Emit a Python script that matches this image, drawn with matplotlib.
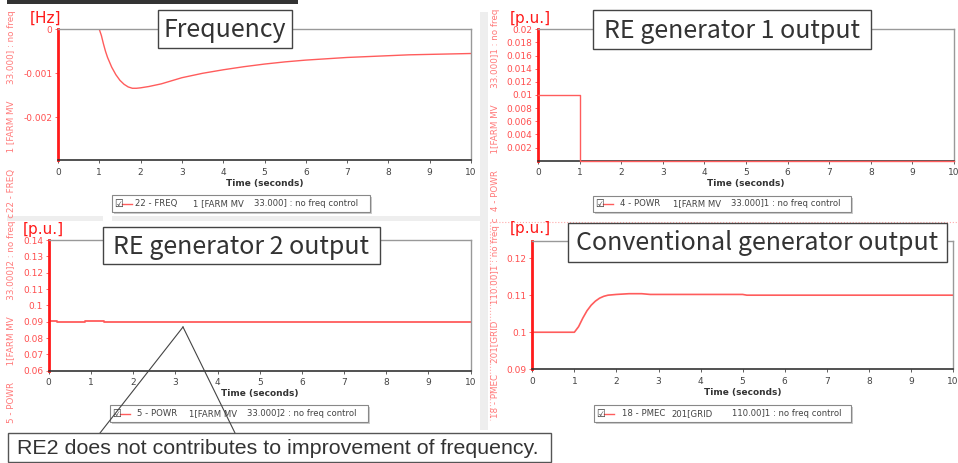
import numpy as np
import matplotlib
matplotlib.use("Agg")
import matplotlib.pyplot as plt
from matplotlib.patches import Rectangle
from matplotlib.lines import Line2D

W, H = 958, 463

# ---- data ----
freq_t = [0, 1.0, 1.05, 1.1, 1.15, 1.2, 1.3, 1.4, 1.5, 1.6, 1.7, 1.8, 1.9, 2.0, 2.2, 2.5,
          3.0, 3.5, 4.0, 4.5, 5.0, 5.5, 6.0, 6.5, 7.0, 7.5, 8.0, 8.5, 9.0, 9.5, 10.0]
freq_dev = [0, 0, -0.00014, -0.00033, -0.00050, -0.00064, -0.00086, -0.00103, -0.00116,
            -0.00125, -0.00131, -0.00134, -0.00134, -0.00133, -0.00130, -0.00124,
            -0.00110, -0.00100, -0.00092, -0.00085, -0.00079, -0.00074, -0.00070,
            -0.00067, -0.00064, -0.00062, -0.00060, -0.00058, -0.00057, -0.00056, -0.00055]

re1_t = [0, 1.0, 1.0, 10.0]
re1_p = [0.01, 0.01, 0.0, 0.0]

re2_t = [0, 0.2, 0.2, 0.85, 0.85, 1.3, 1.3, 2.4, 2.4, 6.2, 6.2, 10.0]
re2_p = [0.0902, 0.0902, 0.0899, 0.0899, 0.0902, 0.0902, 0.0899, 0.0899,
         0.0901, 0.0901, 0.0899, 0.0899]

conv_t = [0, 1.0, 1.1, 1.2, 1.3, 1.4, 1.5, 1.6, 1.7, 1.8, 2.0, 2.3, 2.6, 2.8, 5.0, 5.1, 10.0]
conv_p = [0.1, 0.1, 0.1015, 0.1038, 0.1058, 0.1073, 0.1084, 0.1092, 0.1097, 0.1100,
          0.1102, 0.1104, 0.1104, 0.1102, 0.1102, 0.1100, 0.1100]

x_ticks = list(range(11))

freq_yticks = [0, -0.001, -0.002]
freq_ylabels = ["0", "-0.001", "-0.002"]
re1_yticks = [0.002, 0.004, 0.006, 0.008, 0.01, 0.012, 0.014, 0.016, 0.018, 0.02]
re1_ylabels = ["0.002", "0.004", "0.006", "0.008", "0.01", "0.012", "0.014", "0.016", "0.018", "0.02"]
re2_yticks = [0.06, 0.07, 0.08, 0.09, 0.1, 0.11, 0.12, 0.13, 0.14]
re2_ylabels = ["0.06", "0.07", "0.08", "0.09", "0.1", "0.11", "0.12", "0.13", "0.14"]
conv_yticks = [0.09, 0.1, 0.11, 0.12]
conv_ylabels = ["0.09", "0.1", "0.11", "0.12"]

titles = ["Frequency", "RE generator 1 output", "RE generator 2 output", "Conventional generator output"]
units = ["[Hz]", "[p.u.]", "[p.u.]", "[p.u.]"]
side_labels = ["22 - FREQ      1 [FARM MV      33.000] : no freq",
               "4 - POWR      1[FARM MV      33.000]1 : no freq",
               "5 - POWR      1[FARM MV      33.000]2 : no freq c",
               "18 - PMEC    201[GRID      110.00]1 : no freq c"]
# legend entries: channel, bus, rest
legend_parts = [("22 - FREQ", "1 [FARM MV", "33.000] : no freq control"),
                ("4 - POWR", "1[FARM MV", "33.000]1 : no freq control"),
                ("5 - POWR", "1[FARM MV", "33.000]2 : no freq control"),
                ("18 - PMEC", "201[GRID", "110.00]1 : no freq control")]
note = "RE2 does not contributes to improvement of frequency."

LINE = "#ff5c5c"
TICKRED = "#ff4d4d"
SIDE = "#ff7a7a"

fig = plt.figure(figsize=(W / 100, H / 100), dpi=100)


def fx(x):
    return x / W


def fy(y):
    return 1 - y / H


def rect_px(x0, y0, x1, y1, **kw):
    r = Rectangle((fx(x0), fy(y1)), (x1 - x0) / W, (y1 - y0) / H,
                  transform=fig.transFigure, **kw)
    fig.add_artist(r)
    return r


def line_px(xs, ys, **kw):
    fig.add_artist(Line2D([fx(x) for x in xs], [fy(y) for y in ys],
                          transform=fig.transFigure, **kw))


def text_px(x, y, s, **kw):
    fig.text(fx(x), fy(y), s, **kw)


# background pieces (panel separators, header bar)
rect_px(7, 0, 298, 3.5, fc="#333333", ec="none", zorder=0)
rect_px(7, 216, 480, 221, fc="#eeeeee", ec="none", zorder=0)
rect_px(480, 12, 488, 430, fc="#eeeeee", ec="none", zorder=0)
line_px([490, 958], [222, 222], color="#ffaaaa", lw=0.8, ls=":", zorder=0)
line_px([490, 490], [222, 420], color="#ffaaaa", lw=0.8, ls=":", zorder=0)


def make_axes(x0, y0, x1, y1):
    return fig.add_axes([fx(x0), fy(y1), (x1 - x0) / W, (y1 - y0) / H])


def style(ax, yticks, ylabels, ylim):
    ax.set_xlim(0, 10)
    ax.set_ylim(*ylim)
    ax.set_xticks(x_ticks)
    ax.set_xticklabels([str(v) for v in x_ticks])
    ax.set_yticks(yticks)
    ax.set_yticklabels(ylabels)
    ax.tick_params(axis="x", labelsize=6.5, colors="#444444", length=2.5, width=0.6, pad=3)
    ax.tick_params(axis="y", labelsize=6.5, colors=TICKRED, length=2.5, width=0.6, pad=1.5)
    ax.spines["left"].set_color("#ff1a1a")
    ax.spines["left"].set_linewidth(2)
    ax.spines["bottom"].set_color("#333333")
    ax.spines["bottom"].set_linewidth(1.2)
    for s in ("top", "right"):
        ax.spines[s].set_color("#999999")
        ax.spines[s].set_linewidth(1)
    ax.set_xlabel("Time (seconds)", fontsize=6.5, fontweight="bold", color="#333333", labelpad=1.5)


ax1 = make_axes(58, 29.3, 471, 160)
ax1.plot(freq_t, freq_dev, color=LINE, lw=1.0)
style(ax1, freq_yticks, freq_ylabels, (-0.00297, 0))

ax2 = make_axes(538, 29.3, 954, 160.7)
ax2.plot(re1_t, re1_p, color=LINE, lw=1.0, clip_on=False, zorder=3)
style(ax2, re1_yticks, re1_ylabels, (0, 0.02))

ax3 = make_axes(48.7, 240, 470.7, 370.7)
ax3.plot(re2_t, re2_p, color=LINE, lw=1.3)
style(ax3, re2_yticks, re2_ylabels, (0.06, 0.14))

ax4 = make_axes(532.3, 240.7, 953, 369.3)
ax4.plot(conv_t, conv_p, color=LINE, lw=1.2)
style(ax4, conv_yticks, conv_ylabels, (0.09, 0.1247))

# unit labels
for (x, y), s in zip([(30, 18), (510, 18), (23, 229.5), (510, 229)], units):
    text_px(x, y, s, color="#ff1a1a", fontsize=11, ha="left", va="center")

# rotated series names at the left of each panel
for (x, y), s in zip([(12, 111), (496, 110), (12, 318), (496, 318)], side_labels):
    text_px(x, y, s, color=SIDE, fontsize=6.3, rotation=90, ha="center", va="center")

# legend boxes under each panel
legend_boxes = [(112, 195, 370, 212), (593, 196, 851, 212), (110, 405, 368, 422), (594, 405, 851, 422)]
legend_x = [(135, 193, 254), (620, 673, 731), (137, 189, 247), (622, 671, 732)]
for (x0, y0, x1, y1), parts, xs in zip(legend_boxes, legend_parts, legend_x):
    rect_px(x0 + 1.5, y0 + 1.5, x1 + 1.5, y1 + 1.5, fc="#cccccc", ec="none", zorder=2)
    rect_px(x0, y0, x1, y1, fc="white", ec="#888888", lw=0.8, zorder=3)
    yc = (y0 + y1) / 2
    text_px(x0 + 2, yc, "\u2611", fontsize=7, color="#333333", ha="left", va="center", zorder=4)
    line_px([x0 + 10, x0 + 20], [yc, yc], color=LINE, lw=1.0, zorder=4)
    for xp, s in zip(xs, parts):
        text_px(xp, yc, s, fontsize=6.1, color="#444444", ha="left", va="center", zorder=4)

rect_px(103, 195, 112, 228, fc="white", ec="none", zorder=1)

# title boxes
title_boxes = [(158, 10, 292, 48), (593, 10, 871, 49), (103, 227, 380, 264), (568, 223, 947, 262)]
for (x0, y0, x1, y1), s in zip(title_boxes, titles):
    rect_px(x0, y0, x1, y1, fc="white", ec="#444444", lw=1.0, zorder=5)
    text_px((x0 + x1) / 2, (y0 + y1) / 2 + 1, s, fontsize=18, color="#333333",
            family=["Noto Sans CJK JP", "DejaVu Sans"], ha="center", va="center", zorder=6)

# callout
line_px([183, 100], [327, 433], color="#444444", lw=0.8, zorder=5)
line_px([183, 235], [327, 433], color="#444444", lw=0.8, zorder=5)
rect_px(8, 433, 551, 462, fc="white", ec="#555555", lw=1.0, zorder=6)
text_px(17, 448, note, fontsize=15.4, color="#333333", family="Liberation Sans",
        ha="left", va="center", zorder=7)

fig.savefig("out.png", dpi=100)
